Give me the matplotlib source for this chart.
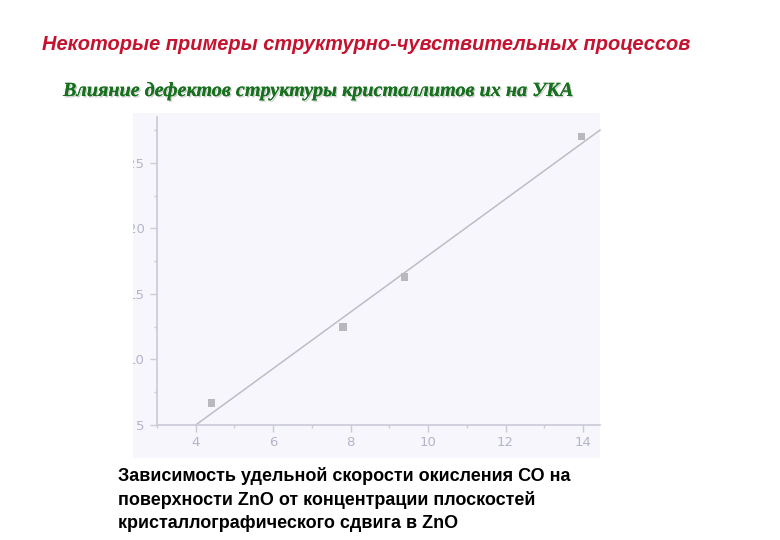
import matplotlib
matplotlib.use("Agg")
import matplotlib.pyplot as plt
from matplotlib.patches import Rectangle
from matplotlib.transforms import Bbox, TransformedBbox
import matplotlib.patheffects as pe

# ---- data ----
x_points = [4.41, 7.80, 9.39, 13.96]
y_points = [6.7, 12.5, 16.3, 27.0]
fit_x = [4.0, 14.44]
fit_y = [5.0, 27.5]
x_ticks = [4, 6, 8, 10, 12, 14]
x_tick_labels = ["4", "6", "8", "10", "12", "14"]
y_ticks = [5, 10, 15, 20, 25]
y_tick_labels = ["5", "10", "15", "20", "25"]
title_text = "Некоторые примеры структурно-чувствительных процессов"
subtitle_text = "Влияние дефектов структуры кристаллитов их на УКА"
caption_lines = [
    "Зависимость удельной скорости окисления СО на",
    "поверхности ZnO от концентрации плоскостей",
    "кристаллографического сдвига в ZnO",
]

W, H = 780, 540
fig = plt.figure(figsize=(W / 100, H / 100), dpi=100)
fig.patch.set_facecolor("white")

def fx(px):
    return px / W

def fy(py):
    return 1 - py / H

# panel background
panel_l, panel_r, panel_t, panel_b = 133, 600, 113, 458
fig.patches.append(Rectangle((fx(panel_l), fy(panel_b)), fx(panel_r - panel_l),
                             (panel_b - panel_t) / H, transform=fig.transFigure,
                             facecolor="#f6f6fc", edgecolor="none", zorder=-10))

ax_l, ax_r, ax_t, ax_b = 157, 600, 117, 425
ax = fig.add_axes([fx(ax_l), fy(ax_b), fx(ax_r - ax_l), (ax_b - ax_t) / H])
ax.set_zorder(5)
ax.set_facecolor("none")
ax.set_xlim(3.05, 14.44)
ax.set_ylim(5, 28.5)

axis_col = "#cacad8"
lab_col = "#b4b4cc"
for s in ["top", "right"]:
    ax.spines[s].set_visible(False)
for s in ["left", "bottom"]:
    ax.spines[s].set_color(axis_col)
    ax.spines[s].set_linewidth(1.2)

ax.set_xticks(x_ticks)
ax.set_xticklabels(x_tick_labels)
ax.set_yticks(y_ticks)
ax.set_yticklabels(y_tick_labels)
ax.set_xticks([3, 5, 7, 9, 11, 13], minor=True)
ax.set_yticks([7.5, 12.5, 17.5, 22.5, 27.5], minor=True)
ax.tick_params(axis="both", which="major", colors=axis_col, labelcolor=lab_col,
               labelsize=9.5, length=5, width=1, direction="out", pad=4)
ax.tick_params(axis="both", which="minor", colors=axis_col, length=2.5, width=1,
               direction="out")
ax.tick_params(axis="x", which="major", pad=3)

ax.plot(fit_x, fit_y, color="#bdbdc6", lw=1.1, zorder=2, clip_on=False)
ax.scatter(x_points, y_points, marker="s", s=30, color="#b9b9bd",
           edgecolors="none", zorder=3)

# clip y tick labels to panel (reference is cropped)
clip = TransformedBbox(Bbox([[fx(133), 0], [1, 1]]), fig.transFigure)
for t in ax.yaxis.get_major_ticks():
    t.label1.set_clip_on(True)
    t.label1.set_clip_box(clip)

# titles
fig.text(fx(42), fy(44), title_text, color="#c4122f", fontsize=14.4,
         fontfamily="Liberation Sans", fontweight="bold", fontstyle="italic",
         ha="left", va="center")
fig.text(fx(63), fy(91), subtitle_text, color="#17701e", fontsize=14.5,
         fontfamily="Liberation Serif", fontweight="bold", fontstyle="italic",
         ha="left", va="center",
         path_effects=[pe.withSimplePatchShadow(offset=(1, -1), shadow_rgbFace="#aaaaaa", alpha=0.6),
                       pe.Normal()])

for i, line in enumerate(caption_lines):
    fig.text(fx(118), fy(476 + 24 * i), line, color="black", fontsize=13,
             fontfamily="Liberation Sans", fontweight="bold",
             ha="left", va="center")

fig.savefig("out.png", dpi=100)
